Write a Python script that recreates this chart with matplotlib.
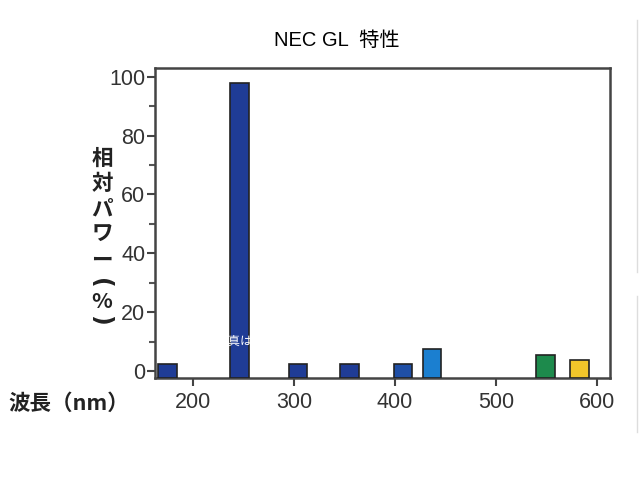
import matplotlib
matplotlib.use("Agg")
import matplotlib.pyplot as plt
from matplotlib.ticker import MultipleLocator
from matplotlib.lines import Line2D

plt.rcParams['font.family'] = ['Liberation Sans', 'Noto Sans CJK JP', 'DejaVu Sans']

# Data
wavelengths = [175, 246, 304, 355, 408, 437, 549, 583]
power = [2.3, 98.0, 2.3, 2.3, 2.3, 7.5, 5.4, 3.7]
bar_colors = ['#1f3c96', '#1f3c96', '#1f3c96', '#1f3c96', '#1f4fa6',
              '#1b7fd0', '#1d8a4c', '#f2c62a']
xticks = [200, 300, 400, 500, 600]
yticks = [0, 20, 40, 60, 80, 100]
title = 'NEC GL  特性'
ylabel_chars = ['相', '対', 'パ', 'ワ', 'ー', '(', '%', ')']
xlabel = '波長（nm）'

baseline = -2.4
fig = plt.figure(figsize=(6.4, 4.8), dpi=100)
ax = fig.add_axes([155/640, 102/480, 455/640, 310/480])

heights = [p - baseline for p in power]
ax.bar(wavelengths, heights, bottom=baseline, width=18.3, color=bar_colors,
       edgecolor='#222222', linewidth=1.2, zorder=3)

ax.set_xlim(162.5, 613)
ax.set_ylim(baseline, 103)
ax.set_xticks(xticks)
ax.set_yticks(yticks)
ax.yaxis.set_minor_locator(MultipleLocator(10))
for s in ax.spines.values():
    s.set_color('#444444')
    s.set_linewidth(1.8)
ax.tick_params(axis='both', which='major', direction='out', length=6, width=1.5,
               color='#444444', labelsize=15.5, labelcolor='#333333', pad=1)
ax.tick_params(axis='y', which='minor', direction='out', length=4, width=1.5,
               color='#555555')
ax.tick_params(axis='x', pad=4)

# watermark fragment over tall bar
ax.text(241, 10, '写真は', color='white', fontsize=9, ha='center', va='center',
        family=['Noto Sans CJK JP'], zorder=4)

fig.text(337/640, 1 - 40/480, title, ha='center', va='center', fontsize=14.5,
         family=['Liberation Sans', 'Noto Sans CJK JP'])

ypos = [158, 184, 209, 234, 260, 283, 301, 320]
xpos = [102, 102, 102, 102, 102, 100, 102, 100]
rots = [0, 0, 0, 0, 0, -90, 0, -90]
fams = [['Noto Sans CJK JP']] * 5 + [['DejaVu Sans'], ['Noto Sans CJK JP'], ['DejaVu Sans']]
sizes = [15.5] * 5 + [17, 15.5, 17]
for ch, xp, yp, r, fm, sz in zip(ylabel_chars, xpos, ypos, rots, fams, sizes):
    fig.text(xp/640, 1 - yp/480, ch, ha='center', va='center', fontsize=sz,
             fontweight='bold', color='#222222', rotation=r, family=fm)

fig.text(8/640, 1 - 403/480, xlabel, ha='left', va='center', fontsize=15.5,
         fontweight='bold', color='#222222',
         family=['Noto Sans CJK JP', 'DejaVu Sans'])

fig.add_artist(Line2D([637/640, 637/640], [1 - 20/480, 1 - 272/480],
                      transform=fig.transFigure, color='#dddddd', linewidth=1))
fig.add_artist(Line2D([637/640, 637/640], [1 - 296/480, 1 - 432/480],
                      transform=fig.transFigure, color='#dddddd', linewidth=1))

fig.savefig('out.png', dpi=100)
